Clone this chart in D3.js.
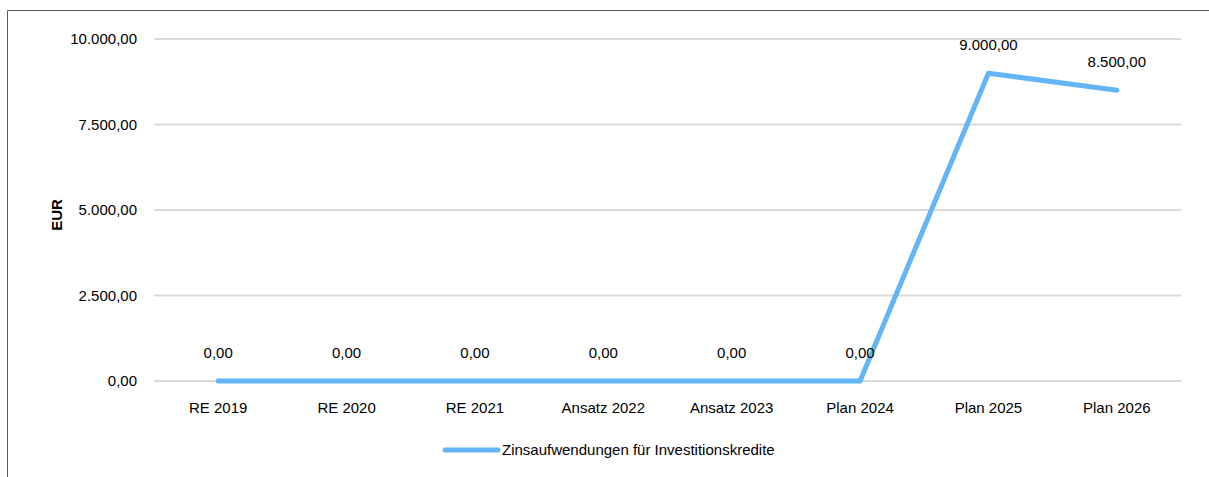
<!DOCTYPE html>
<html>
<head>
<meta charset="utf-8">
<script src="https://cdn.jsdelivr.net/npm/d3@7"></script>
<style>
  body { margin: 0; background: #fff; }
  svg { font-family: "Liberation Sans", Arial, sans-serif; }
</style>
</head>
<body>
<svg id="chart" width="1209" height="477"></svg>
<script>
var categories = ["RE 2019", "RE 2020", "RE 2021", "Ansatz 2022", "Ansatz 2023", "Plan 2024", "Plan 2025", "Plan 2026"];
var values = [0, 0, 0, 0, 0, 0, 9000, 8500];
var yTicks = [0, 2500, 5000, 7500, 10000];
var seriesName = "Zinsaufwendungen für Investitionskredite";

var svg = d3.select("#chart");
var fmt = d3.formatLocale({ decimal: ",", thousands: ".", grouping: [3], currency: ["", " €"] }).format(",.2f");

//outer frame (top + left only)
svg.append("path")
  .attr("d", "M7.5,477 V10.5 H1209")
  .attr("fill", "none")
  .attr("stroke", "#595959")
  .attr("stroke-width", 1);

var plotLeft = 154, plotRight = 1181, plotTop = 39, plotBottom = 381;

var x = d3.scaleBand().domain(categories).range([plotLeft, plotRight]);
var y = d3.scaleLinear().domain([0, 10000]).range([plotBottom, plotTop]);

//gridlines
svg.append("g").selectAll("line")
  .data(yTicks)
  .enter()
  .append("line")
  .attr("x1", plotLeft)
  .attr("x2", plotRight)
  .attr("y1", function(d) { return y(d); })
  .attr("y2", function(d) { return y(d); })
  .attr("stroke", "#d9d9d9")
  .attr("stroke-width", 2);

//y tick labels
svg.append("g").selectAll("text")
  .data(yTicks)
  .enter()
  .append("text")
  .text(function(d) { return fmt(d); })
  .attr("x", 137)
  .attr("y", function(d) { return y(d) + 5; })
  .attr("text-anchor", "end")
  .style("font-size", "15px")
  .attr("fill", "#000");

//x labels
svg.append("g").selectAll("text")
  .data(categories)
  .enter()
  .append("text")
  .text(function(d) { return d; })
  .attr("x", function(d) { return x(d) + x.bandwidth() / 2; })
  .attr("y", plotBottom + 32)
  .attr("text-anchor", "middle")
  .style("font-size", "15px")
  .attr("fill", "#000");

//axis title
svg.append("text")
  .text("EUR")
  .attr("transform", "translate(62,215) rotate(-90)")
  .attr("text-anchor", "middle")
  .style("font-size", "15px")
  .style("font-weight", "bold");

//series line
var line = d3.line()
  .x(function(d, i) { return x(categories[i]) + x.bandwidth() / 2; })
  .y(function(d) { return y(d); });

svg.append("path")
  .datum(values)
  .attr("d", line)
  .attr("fill", "none")
  .attr("stroke", "#63b5f5")
  .attr("stroke-width", 5)
  .attr("stroke-linejoin", "round")
  .attr("stroke-linecap", "round");

//data labels
svg.append("g").selectAll("text")
  .data(values)
  .enter()
  .append("text")
  .text(function(d) { return fmt(d); })
  .attr("x", function(d, i) { return x(categories[i]) + x.bandwidth() / 2; })
  .attr("y", function(d) { return y(d) - 23; })
  .attr("text-anchor", "middle")
  .style("font-size", "15px")
  .attr("fill", "#000");

//legend
var legend = svg.append("g").attr("id", "legend");
legend.append("line")
  .attr("x1", 445).attr("x2", 498)
  .attr("y1", 450).attr("y2", 450)
  .attr("stroke", "#63b5f5")
  .attr("stroke-width", 5)
  .attr("stroke-linecap", "round");
legend.append("text")
  .text(seriesName)
  .attr("x", 502)
  .attr("y", 455)
  .style("font-size", "15px")
  .attr("fill", "#000");
</script>
</body>
</html>
